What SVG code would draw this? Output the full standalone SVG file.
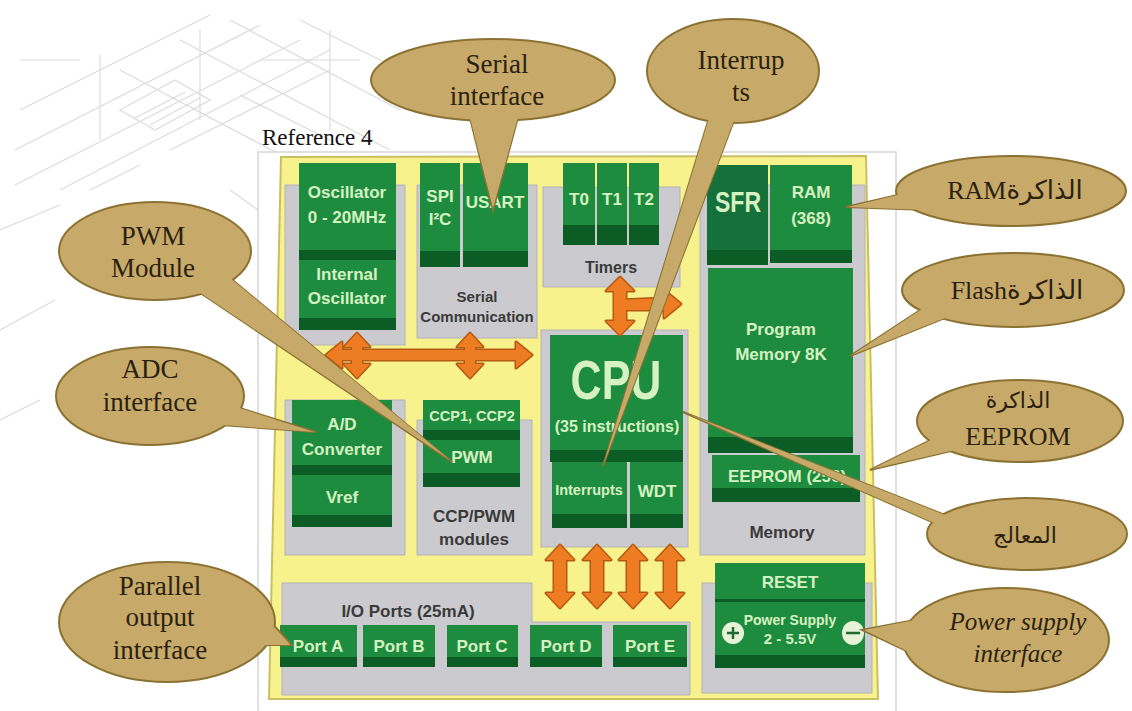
<svg xmlns="http://www.w3.org/2000/svg" width="1132" height="711" viewBox="0 0 1132 711">
<style>
.sk{fill:none;stroke:#dcdcdc;stroke-width:1.2}
.g{fill:#1e8c3e}
.gs{fill:#15703a}
.gd{fill:#0c5c26}
.gr{fill:#cbcbcf;stroke:#b3b3b6;stroke-width:1}
.t{font-family:"Liberation Sans",Arial,sans-serif;font-weight:bold;fill:#d6f2c2;text-anchor:middle;font-size:17px}
.tg{font-family:"Liberation Sans",Arial,sans-serif;font-weight:bold;fill:#3a3a3a;text-anchor:middle;font-size:17px}
.aro{fill:none;stroke:#b55a12;stroke-width:3;stroke-linejoin:round}
.arf{fill:#ee7c22}
.c{fill:#c7aa69;stroke:#8b7233;stroke-width:2}
.cf{fill:#c7aa69}
.ct{font-family:"Liberation Serif","DejaVu Sans",serif;font-size:27px;fill:#2b2110;text-anchor:middle}
</style>
<rect width="1132" height="711" fill="#ffffff"/>
<g id="background-sketch">
<path class="sk" d="M15 150 L260 25 M15 185 L300 40 M60 190 L330 50 M20 110 L210 15 M90 190 L140 165 M170 150 L330 70 M230 20 L400 110 M180 40 L390 150 M120 70 L300 165 M240 95 L330 140 M300 20 L420 80"/>
<path class="sk" d="M100 55 L100 140 M200 30 L200 120 M330 30 L330 130 M20 60 L80 60 M260 60 L360 60"/>
<path class="sk" d="M120 110 L175 80 L210 100 L155 130 Z M135 118 L185 92 M150 125 L200 98"/>
<path class="sk" d="M0 230 L60 205 M0 330 L55 300 M230 190 L258 210 M0 420 L40 400"/>
</g>
<path id="panel" d="M258 711 V152 H896 V711" fill="#ffffff" stroke="#d6d6d6" stroke-width="1.5"/>
<text x="262" y="145" font-family="Liberation Serif, serif" font-size="23" fill="#111">Reference 4</text>
<g id="board">
<polygon points="281,157 866,156 878,699 269,699" fill="#f8f28c" stroke="#c9bf62" stroke-width="2"/>
<rect class="gr" x="285" y="185" width="120" height="160"/>
<rect class="gr" x="417" y="185" width="120" height="153"/>
<rect class="gr" x="543" y="187" width="137" height="100"/>
<rect class="gr" x="700" y="185" width="165" height="370"/>
<rect class="gr" x="541" y="330" width="147" height="217"/>
<rect class="gr" x="285" y="400" width="120" height="155"/>
<rect class="gr" x="417" y="420" width="115" height="135"/>
<polygon class="gr" points="282,583 532,583 532,622 690,622 690,695 282,695"/>
<rect class="gr" x="702" y="583" width="170" height="110"/>
</g>
<g id="oscillator">
<rect class="g" x="299" y="163" width="97" height="90"/>
<rect class="gd" x="299" y="250" width="97" height="10"/>
<rect class="g" x="299" y="260" width="97" height="58"/>
<rect class="gd" x="299" y="318" width="97" height="12"/>
<text class="t" x="347" y="198">Oscillator</text>
<text class="t" x="347" y="223">0 - 20MHz</text>
<text class="t" x="347" y="280">Internal</text>
<text class="t" x="347" y="304">Oscillator</text>
</g>
<g id="serial">
<rect class="g" x="420" y="163" width="40" height="88"/>
<rect class="gd" x="420" y="251" width="40" height="16"/>
<rect class="g" x="463" y="163" width="65" height="88"/>
<rect class="gd" x="463" y="251" width="65" height="16"/>
<text class="t" x="440" y="202">SPI</text>
<text class="t" x="440" y="225">I²C</text>
<text class="t" x="495" y="208">USART</text>
<text class="tg" x="477" y="302" style="font-size:15px">Serial</text>
<text class="tg" x="477" y="322" style="font-size:15px">Communication</text>
</g>
<g id="timers">
<rect class="g" x="563" y="163" width="32" height="62"/>
<rect class="gd" x="563" y="225" width="32" height="20"/>
<rect class="g" x="597" y="163" width="30" height="62"/>
<rect class="gd" x="597" y="225" width="30" height="20"/>
<rect class="g" x="629" y="163" width="30" height="62"/>
<rect class="gd" x="629" y="225" width="30" height="20"/>
<text class="t" x="579" y="205">T0</text>
<text class="t" x="612" y="205">T1</text>
<text class="t" x="644" y="205">T2</text>
<text class="tg" x="611" y="273" style="font-size:16px">Timers</text>
</g>
<g id="memory">
<rect class="gs" x="707" y="165" width="61" height="100"/>
<rect class="gd" x="707" y="250" width="61" height="15"/>
<rect class="g" x="770" y="165" width="82" height="85"/>
<rect class="gd" x="770" y="250" width="82" height="13"/>
<rect class="g" x="708" y="268" width="145" height="170"/>
<rect class="gd" x="708" y="437" width="145" height="16"/>
<rect class="g" x="712" y="455" width="148" height="33"/>
<rect class="gd" x="712" y="488" width="148" height="14"/>
<text class="t" style="font-size:23px" transform="translate(738,212) scale(1,1.3)">SFR</text>
<text class="t" x="811" y="198">RAM</text>
<text class="t" x="811" y="224">(368)</text>
<text class="t" x="781" y="335">Program</text>
<text class="t" x="781" y="360">Memory 8K</text>
<text class="t" x="728" y="482" style="text-anchor:start">EEPROM (256)</text>
<text class="tg" x="782" y="538">Memory</text>
</g>
<g id="cpu">
<rect class="g" x="550" y="335" width="133" height="115"/>
<rect class="gd" x="550" y="450" width="133" height="12"/>
<rect class="g" x="552" y="462" width="75" height="52"/>
<rect class="gd" x="552" y="514" width="75" height="14"/>
<rect class="g" x="630" y="462" width="53" height="52"/>
<rect class="gd" x="630" y="514" width="53" height="14"/>
<text class="t" style="font-size:43px" transform="translate(616,399) scale(1,1.3)">CPU</text>
<text class="t" x="617" y="432" style="font-size:16px">(35 instructions)</text>
<text class="t" x="589" y="495" style="font-size:14.5px">Interrupts</text>
<text class="t" x="657" y="497">WDT</text>
</g>
<g id="adc">
<rect class="g" x="292" y="400" width="100" height="65"/>
<rect class="gd" x="292" y="465" width="100" height="10"/>
<rect class="g" x="292" y="475" width="100" height="40"/>
<rect class="gd" x="292" y="515" width="100" height="12"/>
<text class="t" x="342" y="430">A/D</text>
<text class="t" x="342" y="455">Converter</text>
<text class="t" x="342" y="503">Vref</text>
</g>
<g id="ccp">
<rect class="g" x="423" y="400" width="97" height="30"/>
<rect class="gd" x="423" y="430" width="97" height="10"/>
<rect class="g" x="423" y="440" width="97" height="33"/>
<rect class="gd" x="423" y="473" width="97" height="14"/>
<text class="t" x="472" y="421" style="font-size:14.5px">CCP1, CCP2</text>
<text class="t" x="472" y="463">PWM</text>
<text class="tg" x="474" y="522">CCP/PWM</text>
<text class="tg" x="474" y="545">modules</text>
</g>
<g id="ports">
<text class="tg" x="408" y="617">I/O Ports (25mA)</text>
<rect class="g" x="280" y="625" width="77" height="32"/><rect class="gd" x="280" y="657" width="77" height="10"/>
<rect class="g" x="363" y="625" width="72" height="32"/><rect class="gd" x="363" y="657" width="72" height="10"/>
<rect class="g" x="447" y="625" width="71" height="32"/><rect class="gd" x="447" y="657" width="71" height="10"/>
<rect class="g" x="530" y="625" width="72" height="32"/><rect class="gd" x="530" y="657" width="72" height="10"/>
<rect class="g" x="613" y="625" width="74" height="32"/><rect class="gd" x="613" y="657" width="74" height="10"/>
<text class="t" x="318" y="652">Port A</text>
<text class="t" x="399" y="652">Port B</text>
<text class="t" x="482" y="652">Port C</text>
<text class="t" x="566" y="652">Port D</text>
<text class="t" x="650" y="652">Port E</text>
</g>
<g id="power">
<rect class="g" x="715" y="563" width="150" height="36"/>
<rect class="gd" x="715" y="599" width="150" height="3"/>
<rect class="g" x="715" y="602" width="150" height="53"/>
<rect class="gd" x="715" y="655" width="150" height="13"/>
<text class="t" x="790" y="588">RESET</text>
<circle cx="733" cy="633" r="11" fill="#e6f3d6"/>
<path d="M727 633 H739 M733 627 V639" stroke="#1e6b32" stroke-width="2.5"/>
<ellipse cx="853" cy="633" rx="11" ry="12" fill="#e6f3d6"/>
<path d="M846 633 H860" stroke="#1e6b32" stroke-width="2.5"/>
<text class="t" x="790" y="625" style="font-size:14px">Power Supply</text>
<text class="t" x="790" y="644" style="font-size:15px">2 - 5.5V</text>
</g>
<g id="connectors">
<g class="aro">
<polygon points="326,355 342,342 342,350 516,350 516,342 532,355 516,368 516,360 342,360 342,368"/>
<polygon points="357,333 370,347 362,347 362,364 370,364 357,378 344,364 352,364 352,347 344,347"/>
<polygon points="470,333 483,347 475,347 475,364 483,364 470,378 457,364 465,364 465,347 457,347"/>
<polygon points="620,277 634,291 626,291 626,321 634,321 620,335 606,321 614,321 614,291 606,291"/>
<polygon points="620,300 664,298 664,290 681,304 664,318 664,310 620,310"/>
<polygon points="560,545 574,560 566,560 566,593 574,593 560,608 546,593 554,593 554,560 546,560"/>
<polygon points="597,545 611,560 603,560 603,593 611,593 597,608 583,593 591,593 591,560 583,560"/>
<polygon points="633,545 647,560 639,560 639,593 647,593 633,608 619,593 627,593 627,560 619,560"/>
<polygon points="670,545 684,560 676,560 676,593 684,593 670,608 656,593 664,593 664,560 656,560"/>
</g>
<g class="arf">
<polygon points="326,355 342,342 342,350 516,350 516,342 532,355 516,368 516,360 342,360 342,368"/>
<polygon points="357,333 370,347 362,347 362,364 370,364 357,378 344,364 352,364 352,347 344,347"/>
<polygon points="470,333 483,347 475,347 475,364 483,364 470,378 457,364 465,364 465,347 457,347"/>
<polygon points="620,277 634,291 626,291 626,321 634,321 620,335 606,321 614,321 614,291 606,291"/>
<polygon points="620,300 664,298 664,290 681,304 664,318 664,310 620,310"/>
<polygon points="560,545 574,560 566,560 566,593 574,593 560,608 546,593 554,593 554,560 546,560"/>
<polygon points="597,545 611,560 603,560 603,593 611,593 597,608 583,593 591,593 591,560 583,560"/>
<polygon points="633,545 647,560 639,560 639,593 647,593 633,608 619,593 627,593 627,560 619,560"/>
<polygon points="670,545 684,560 676,560 676,593 684,593 670,608 656,593 664,593 664,560 656,560"/>
</g>
</g>
<g id="callout-serial">
<polygon class="c" points="468,110 520,110 493,210"/>
<ellipse class="c" cx="493" cy="80" rx="122" ry="41"/>
<polygon class="cf" points="468,110 520,110 493,208"/>
<text class="ct" x="497" y="73">Serial</text>
<text class="ct" x="497" y="105">interface</text>
</g>
<g id="callout-interrupts">
<polygon class="c" points="712,108 738,110 603,466"/>
<ellipse class="c" cx="733" cy="71" rx="86" ry="52"/>
<polygon class="cf" points="712,108 738,110 604,463"/>
<text class="ct" x="741" y="69">Interrup</text>
<text class="ct" x="741" y="101">ts</text>
</g>
<g id="callout-pwm">
<polygon class="c" points="196,290 230,278 452,462"/>
<ellipse class="c" cx="155" cy="251" rx="96" ry="49"/>
<polygon class="cf" points="196,290 230,278 450,460"/>
<text class="ct" x="153" y="245">PWM</text>
<text class="ct" x="153" y="277">Module</text>
</g>
<g id="callout-adc">
<polygon class="c" points="230,405 222,425 316,432"/>
<ellipse class="c" cx="150" cy="396" rx="94" ry="49"/>
<polygon class="cf" points="230,405 222,425 314,432"/>
<text class="ct" x="150" y="378">ADC</text>
<text class="ct" x="150" y="411">interface</text>
</g>
<g id="callout-parallel">
<polygon class="c" points="255,605 255,645 292,645"/>
<ellipse class="c" cx="167" cy="622" rx="108" ry="60"/>
<polygon class="cf" points="255,605 255,645 290,645"/>
<text class="ct" x="160" y="595">Parallel</text>
<text class="ct" x="160" y="626">output</text>
<text class="ct" x="160" y="659">interface</text>
</g>
<g id="callout-ram">
<polygon class="c" points="910,192 925,210 846,207"/>
<ellipse class="c" cx="1011" cy="191" rx="115" ry="35"/>
<polygon class="cf" points="910,192 925,210 848,207"/>
<text class="ct" x="1015" y="199" style="font-size:26px" direction="rtl">الذاكرةRAM</text>
</g>
<g id="callout-flash">
<polygon class="c" points="928,305 945,318 850,356"/>
<ellipse class="c" cx="1013" cy="290" rx="111" ry="37"/>
<polygon class="cf" points="928,305 945,318 852,355"/>
<text class="ct" x="1017" y="299" style="font-size:26px" direction="rtl">الذاكرةFlash</text>
</g>
<g id="callout-eeprom">
<polygon class="c" points="935,438 955,450 870,470"/>
<ellipse class="c" cx="1020" cy="421" rx="103" ry="41"/>
<polygon class="cf" points="935,438 955,450 872,469"/>
<text class="ct" x="1018" y="408" style="font-size:22px">الذاكرة</text>
<text class="ct" x="1018" y="445" style="font-size:26px">EEPROM</text>
</g>
<g id="callout-cpu">
<polygon class="c" points="945,515 950,530 683,412"/>
<ellipse class="c" cx="1027" cy="534" rx="100" ry="36"/>
<polygon class="cf" points="945,515 950,530 686,413"/>
<text class="ct" x="1025" y="543" style="font-size:22px">المعالج</text>
</g>
<g id="callout-power">
<polygon class="c" points="915,620 915,655 862,630"/>
<ellipse class="c" cx="1006" cy="640" rx="103" ry="52"/>
<polygon class="cf" points="915,620 915,655 864,630"/>
<text class="ct" x="1018" y="630" style="font-size:25px;font-style:italic">Power supply</text>
<text class="ct" x="1018" y="662" style="font-size:25px;font-style:italic">interface</text>
</g>
</svg>
